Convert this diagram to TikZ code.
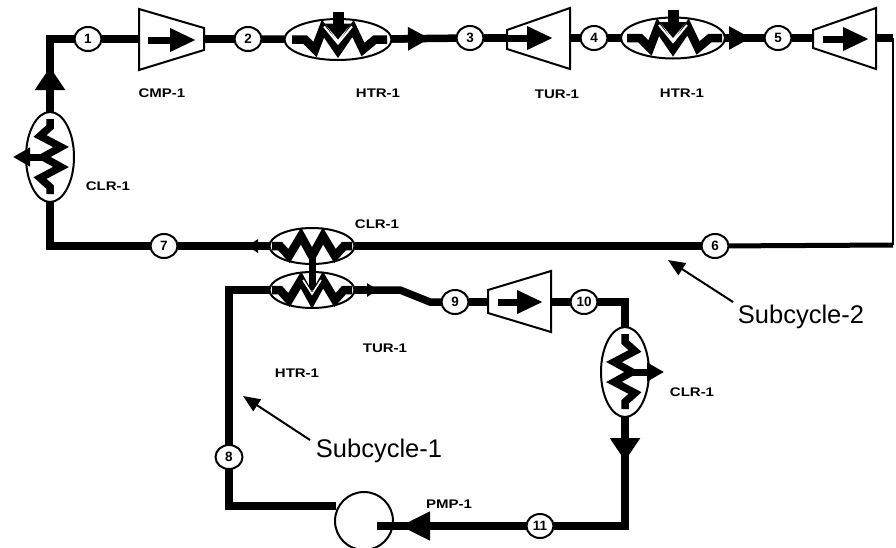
\documentclass[tikz,border=0pt]{standalone}
\usepackage{fontspec}
\setmainfont{Liberation Sans}
\newfontfamily\lblfont[FakeStretch=1.2]{Liberation Sans}
\usetikzlibrary{arrows.meta,shapes.geometric}

\begin{document}
\begin{tikzpicture}[
  x=1pt, y=-1pt,
  every node/.style={inner sep=0pt, outer sep=0pt},
  pipe/.style={line width=7.5pt, line cap=butt, line join=miter, black},
  thinpipe/.style={line width=2.5pt, black},
  head/.style={-{Triangle[length=22pt,width=22pt]}},
  bighead/.style={-{Triangle[length=23pt,width=29pt]}},
  pumphead/.style={-{Triangle[length=30pt,width=27pt]}},
  smallhead/.style={-{Triangle[length=11pt,width=13pt]}},
  flow/.style={line width=7pt, -{Triangle[length=26pt,width=22pt]}},
  heatin/.style={line width=11pt, -{Triangle[length=16pt,width=26pt]}},
  heatout/.style={line width=7pt, -{Triangle[length=17pt,width=18pt]}},
  statept/.style={ellipse, draw, line width=2pt, fill=white, minimum width=27pt,
                  minimum height=24pt, font=\fontsize{13.5}{13.5}\selectfont\bfseries},
  hxh/.style={ellipse, draw, line width=2pt, fill=white, minimum width=107pt, minimum height=41pt},
  hxs/.style={ellipse, draw, line width=2pt, fill=white, minimum width=85pt, minimum height=36pt},
  hxv/.style={ellipse, draw, line width=2pt, fill=white, minimum width=48pt, minimum height=90pt},
  machine/.style={draw, line width=2pt, fill=white, line join=miter},
  lbl/.style={font=\lblfont\fontsize{12.5}{12.5}\selectfont\bfseries},
  biglbl/.style={font=\fontsize{25.5}{26}\selectfont},
  note/.style={line width=2pt, -{Triangle[length=17pt,width=14pt]}},
  coilh/.pic={
    \draw[line width=8.5pt, miter limit=10] (-46,0) -- (-33,0) -- (-23,10) -- (-15,-11) -- (0,11)
      -- (15,-11) -- (25,10) -- (37,0) -- (49,0);
  },
  coils/.pic={
    \draw[line width=8.5pt, miter limit=10] (-40,0) -- (-32,0) -- (-23,10) -- (-11,-10) -- (0,10)
      -- (11,-10) -- (23,10) -- (32,0) -- (40,0);
  },
  coilv/.pic={
    \draw[line width=7.5pt, miter limit=10] (0,-38) -- (0,-30) -- (-10,-21) -- (11,-10) -- (-7,0)
      -- (11,10) -- (-10,21) -- (0,30) -- (0,37);
  }
]
  \useasboundingbox (0,0) rectangle (896,547);
  \clip (0,0) rectangle (896,547);

  % Equipment
  \draw[machine] (139,9) -- (204,28) -- (204,50) -- (139,70) -- cycle;
  \draw[machine] (507,30) -- (570,8) -- (570,69) -- (507,49) -- cycle;
  \draw[machine] (813,30) -- (876,8) -- (876,69) -- (813,48) -- cycle;
  \draw[machine] (488,290) -- (551,271) -- (551,332) -- (488,313) -- cycle;
  \coordinate (cmpin) at (139,39);
  \coordinate (cmpout) at (204,39);
  \coordinate (turain) at (507,38);
  \coordinate (turaout) at (570,38);
  \coordinate (turbin) at (813,38);
  \coordinate (turbout) at (876,38);
  \coordinate (turcin) at (488,302);
  \coordinate (turcout) at (551,302);
  \node[hxh] (htra) at (338,39.5) {};
  \node[hxh, minimum width=104pt] (htrb) at (673,38) {};
  \node[hxv] (clra) at (50,157) {};
  \node[hxs] (clrb) at (312,246) {};
  \node[hxs] (htrc) at (312,290) {};
  \node[hxv] (clrc) at (625,372) {};
  \node[circle, draw, line width=2pt, fill=white, minimum size=58pt] (pmp) at (364,521) {};

  % State points
  \node[statept] (s1) at (88,39) {1};
  \node[statept] (s2) at (248,39) {2};
  \node[statept] (s3) at (470,38) {3};
  \node[statept] (s4) at (594,38) {4};
  \node[statept] (s5) at (778,38) {5};
  \node[statept] (s6) at (715,246) {6};
  \node[statept] (s7) at (164,246) {7};
  \node[statept] (s8) at (229,457) {8};
  \node[statept] (s9) at (455,302) {9};
  \node[statept] (s10) at (584,302) {10};
  \node[statept] (s11) at (540,526) {11};

  % Turning points and arrow tips
  \coordinate (cnrtop) at (893,38);
  \coordinate (cnrbot) at (893,245);
  \coordinate (tipa) at (430,38.5);
  \coordinate (tipb) at (751,38);
  \coordinate (tipc) at (50,67);
  \coordinate (tipd) at (625,461);
  \coordinate (tipe) at (400,526);
  \coordinate (tipf) at (247,246);
  \coordinate (tipg) at (378,290);
  \coordinate (bendc) at (400,290);
  \coordinate (bendd) at (430,302);
  \coordinate (pmpin) at (377,526);
  \coordinate (pmpout) at (336,506);

  % Upper loop
  \draw[pipe] (s1) -- (cmpin);
  \draw[pipe] (clra) -- (tipc |- s1) -- (s1);
  \draw[pipe, bighead] (clra) -- (tipc);
  \draw[pipe] (cmpout) -- (s2);
  \draw[pipe] (s2) -- (htra);
  \draw[pipe] (htra) -- (s3);
  \draw[pipe, head] (htra) -- (tipa);
  \draw[pipe] (s3) -- (turain);
  \draw[pipe] (turaout) -- (s4);
  \draw[pipe] (s4) -- (htrb);
  \draw[pipe] (htrb) -- (s5);
  \draw[pipe, head] (htrb) -- (tipb);
  \draw[pipe] (s5) -- (turbin);
  \draw[pipe] (turbout) -- (cnrtop);
  \draw[thinpipe] (cnrtop) -- (cnrbot);
  \draw[line width=5pt] (cnrbot) -- (s6);
  \draw[pipe] (s6) -- (clrb);
  \draw[pipe] (clrb) -- (s7);
  \draw[pipe, smallhead] (clrb) -- (tipf);
  \draw[pipe] (s7) -| (clra);

  % Lower loop
  \draw[pipe] (htrc) -- (bendc) -- (bendd) -- (s9);
  \draw[pipe, smallhead] (htrc) -- (tipg);
  \draw[pipe] (s9) -- (turcin);
  \draw[pipe] (turcout) -- (s10);
  \draw[pipe] (s10) -| (clrc);
  \draw[pipe] (clrc) |- (s11);
  \draw[pipe, bighead] (clrc) -- (tipd);
  \draw[pipe] (s11) -- (pmpin);
  \draw[pipe, pumphead] (s11) -- (tipe);
  \draw[pipe] (pmpout) -| (s8);
  \draw[pipe] (s8) |- (htrc);

  % Coils
  \pic at (htra) {coilh};
  \pic at (htrb) {coilh};
  \pic at (clrb) {coils};
  \pic at (htrc) {coils};
  \pic at (clra) {coilv};
  \pic[xscale=-1] at (clrc) {coilv};

  % Work and heat arrows
  \draw[line width=2pt, white] (htra.center) ++(-14,-13) -- ++(14,17) -- ++(14,-17);
  \draw[line width=2pt, white] (htrb.center) ++(-14,-13) -- ++(14,17) -- ++(14,-17);
  \draw[heatin] (338,12) -- (htra.center);
  \draw[heatin] (673,10) -- (htrb.center);
  \draw[line width=7pt] (clrb.center) ++(0,10) -- (htrc.center);
  \draw[line width=1.6pt, white] (htrc.center) ++(-9,-10) -- ++(9,14) -- ++(9,-14);
  \draw[heatout] (clra.center) -- (13,157);
  \draw[heatout] (clrc.center) -- (664,372);
  \draw[flow] (148,40) -- (196,40);
  \draw[flow] (505,38) -- (553,38);
  \draw[flow] (823,39) -- (869,39);
  \draw[flow] (498,302) -- (543,302);

  % Labels
  \node[lbl] (lcmp) at (162,93) {CMP-1};
  \node[lbl] (lhtra) at (378,93) {HTR-1};
  \node[lbl] (ltura) at (557,94) {TUR-1};
  \node[lbl] (lhtrb) at (682,93) {HTR-1};
  \node[lbl] (lclra) at (108,186) {CLR-1};
  \node[lbl] (lclrb) at (377,224) {CLR-1};
  \node[lbl] (lturc) at (385,348) {TUR-1};
  \node[lbl] (lhtrc) at (297,373) {HTR-1};
  \node[lbl] (lclrc) at (692,392) {CLR-1};
  \node[lbl] (lpmp) at (449,504) {PMP-1};

  % Subcycle notes
  \node[biglbl] (subb) at (801,317) {Subcycle-2};
  \node[biglbl] (suba) at (379,451) {Subcycle-1};
  \coordinate (tipn) at (668,260);
  \coordinate (tipm) at (243,396);
  \draw[note] (733,302) -- (tipn);
  \draw[note] (310,440) -- (tipm);
\end{tikzpicture}
\end{document}
